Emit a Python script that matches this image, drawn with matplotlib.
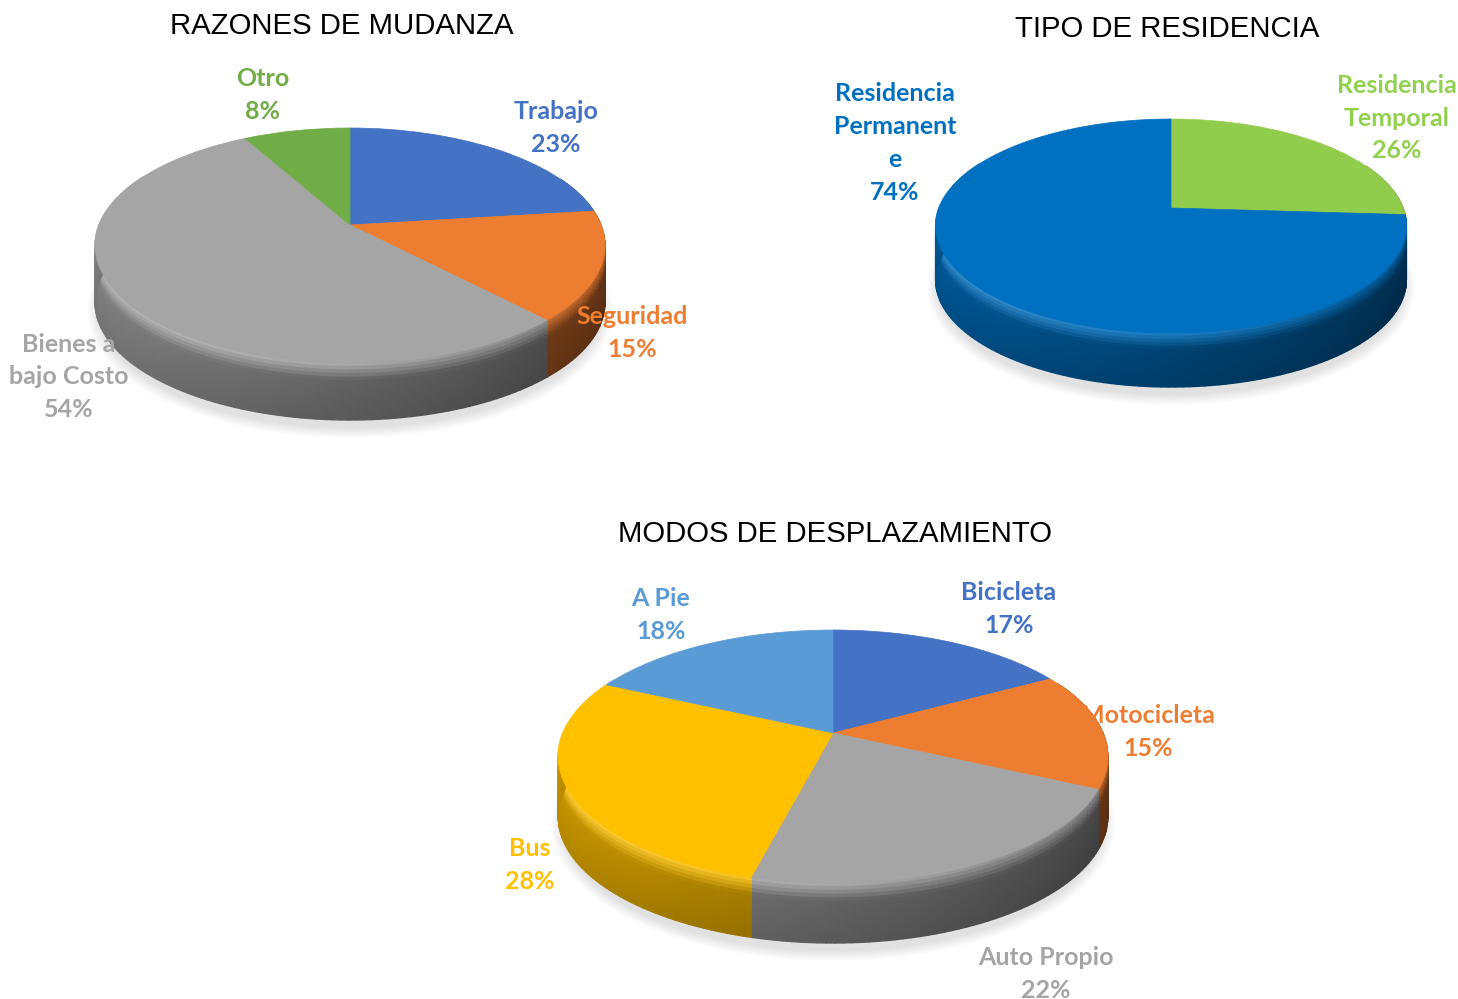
import matplotlib
matplotlib.use('Agg')
import matplotlib.pyplot as plt
import numpy as np
from matplotlib.collections import PolyCollection
from matplotlib.colors import to_rgb
from matplotlib.patches import Ellipse
from matplotlib.transforms import Transform

titles = ['RAZONES DE MUDANZA', 'TIPO DE RESIDENCIA', 'MODOS DE DESPLAZAMIENTO']

mudanza_cats = ['Trabajo', 'Seguridad', 'Bienes a\nbajo Costo', 'Otro']
mudanza_vals = [23, 15, 54, 8]
mudanza_colors = ['#4472C4', '#ED7D31', '#A5A5A5', '#70AD47']

residencia_cats = ['Residencia\nTemporal', 'Residencia\nPermanent\ne']
residencia_vals = [26, 74]
residencia_colors = ['#92CC4C', '#0070C0']

modos_cats = ['Bicicleta', 'Motocicleta', 'Auto Propio', 'Bus', 'A Pie']
modos_vals = [17, 15, 22, 28, 18]
modos_colors = ['#4472C4', '#ED7D31', '#A5A5A5', '#FFC000', '#5B9BD5']
modos_label_colors = modos_colors

# cx, cy, half width, far radius, near radius, wall height (pixels)
mudanza_geom = (350, 225, 251, 97, 138, 57)
residencia_geom = (1171, 208, 232, 89, 125, 54)
modos_geom = (833, 733, 270, 103, 150, 60)

mudanza_label_xy = [(556, 128), (632, 333), (69, 377), (263, 95)]
residencia_label_xy = [(1397, 118), (895, 143)]
modos_label_xy = [(1009, 609), (1148, 732), (1046, 974), (530, 865), (661, 615)]
title_xy = [(342, 26), (1167, 29), (835, 534)]


class Persp(Transform):
    input_dims = 2
    output_dims = 2
    is_separable = False
    has_inverse = False

    def __init__(self, geom):
        super().__init__()
        self.cx, self.cy, self.w, far, near, _ = geom
        self.p = (near - far) / (near + far)
        self.k = far * (1 + self.p)

    def transform_non_affine(self, values):
        values = np.asarray(values, dtype=float)
        d = 1 + self.p * values[:, 1]
        return np.column_stack([self.cx + self.w * values[:, 0] / d,
                                self.cy - self.k * values[:, 1] / d])


def draw_shadow(ax, geom):
    cx, cy, w, far, near, wall_h = geom
    mid = cy + (near - far) / 2 + wall_h
    for grow in np.linspace(20, 0, 10):
        ax.add_patch(Ellipse((cx, mid + 8), 2 * (w + grow * 0.6), far + near + grow,
                             color='#8a8a8a', alpha=0.025, lw=0, zorder=1))


def draw_walls(ax, vals, colors, geom, persp):
    wall_h = geom[-1]
    edges = np.cumsum([0] + list(vals)) / sum(vals) * 360
    zs = np.linspace(0, 1, 17)
    verts, faces = [], []
    for i, color in enumerate(colors):
        base = np.array(to_rgb(color))
        angles = np.arange(edges[i], edges[i + 1] + 1.5, 1.5)
        angles[-1] = edges[i + 1]
        rad = np.radians(angles)
        pts = persp.transform_non_affine(np.column_stack([np.sin(rad), np.cos(rad)]))
        for j in range(len(angles) - 1):
            if np.cos(rad[j]) > 0.45:
                continue
            s = np.sin((rad[j] + rad[j + 1]) / 2)
            wall = 0.62 - 0.2 * s
            glow = 0.24 * np.clip((1 - s) / 2, 0, 1)
            for z0, z1 in zip(zs[:-1], zs[1:]):
                zm = (z0 + z1) / 2
                mix = np.clip(zm / 0.3, 0, 1)
                rim = base * (1 - glow) + glow
                rim = rim * (1 - 0.2 * max(s, 0))
                col = (1 - mix) * rim + mix * base * wall * (1 - 0.13 * zm)
                verts.append([pts[j] + [0, z0 * wall_h], pts[j + 1] + [0, z0 * wall_h],
                              pts[j + 1] + [0, z1 * wall_h], pts[j] + [0, z1 * wall_h]])
                faces.append(col)
    ax.add_collection(PolyCollection(verts, facecolors=faces, edgecolors=faces,
                                     linewidths=1.0, zorder=2), autolim=False)


def draw_pie(ax, vals, colors, geom):
    persp = Persp(geom)
    draw_shadow(ax, geom)
    draw_walls(ax, vals, colors, geom, persp)
    wedges, _ = ax.pie(vals, colors=colors, startangle=90, counterclock=False)
    for wedge, color in zip(wedges, colors):
        wedge.set_transform(persp + ax.transData)
        wedge.set_edgecolor(color)
        wedge.set_linewidth(0.5)
        wedge.set_zorder(3)


def draw_labels(ax, cats, vals, colors, xy):
    for cat, val, color, (x, y) in zip(cats, vals, colors, xy):
        ax.text(x, y, f'{cat}\n{val}%', color=color, ha='center', va='center',
                family='Lato', weight='bold', fontsize=18.0, linespacing=1.52, zorder=5)


fig = plt.figure(figsize=(14.58, 9.99), dpi=100)
ax = fig.add_axes([0, 0, 1, 1])

draw_pie(ax, mudanza_vals, mudanza_colors, mudanza_geom)
draw_pie(ax, residencia_vals, residencia_colors, residencia_geom)
draw_pie(ax, modos_vals, modos_colors, modos_geom)

ax.set_aspect('auto')
ax.set_xlim(0, 1458)
ax.set_ylim(999, 0)
ax.axis('off')

draw_labels(ax, mudanza_cats, mudanza_vals, mudanza_colors, mudanza_label_xy)
draw_labels(ax, residencia_cats, residencia_vals, ['#92D050', '#0070C0'], residencia_label_xy)
draw_labels(ax, modos_cats, modos_vals, modos_label_colors, modos_label_xy)

for title, (x, y) in zip(titles, title_xy):
    ax.text(x, y, title, ha='center', va='center', family='Liberation Sans',
            fontsize=21.2, color='black', zorder=5)

fig.savefig('out.png', dpi=100)
